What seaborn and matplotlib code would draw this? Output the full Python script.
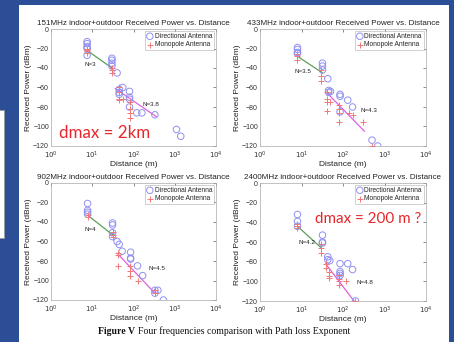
import numpy as np
import pandas as pd
import matplotlib
matplotlib.use("Agg")
import matplotlib.pyplot as plt
import seaborn as sns
from matplotlib.patches import Rectangle

# ---- data ----
freqs = ["151MHz", "433MHz", "902MHz", "2400MHz"]

dir_d_151 = [7.5, 7.5, 7.5, 7.5, 7.5, 30, 30, 30, 30, 40, 45, 45, 45, 55, 80, 80, 80, 80, 120, 160, 330, 1100, 1400]
dir_p_151 = [-13, -15, -18, -20, -27, -30, -32, -35, -38, -45, -62, -65, -67, -60, -64, -70, -72, -80, -86, -86, -88, -103, -110]
mono_d_151 = [7.5, 7.5, 7.5, 7.5, 30, 30, 30, 45, 45, 45, 45, 55, 80, 80, 80, 80]
mono_p_151 = [-20, -22, -23, -25, -40, -42, -45, -60, -65, -72, -73, -72, -75, -82, -86, -91]

dir_d_433 = [8, 8, 8, 8, 32, 32, 32, 43, 45, 45, 50, 85, 85, 85, 130, 170, 500, 690]
dir_p_433 = [-19, -21, -24, -25, -35, -38, -42, -51, -63, -65, -64, -67, -69, -85, -73, -80, -114, -120]
mono_d_433 = [8, 8, 8, 30, 30, 30, 42, 42, 42, 42, 48, 80, 80, 80, 80, 140, 170, 300, 500]
mono_p_433 = [-26, -28, -32, -42, -48, -53, -65, -72, -75, -84, -75, -78, -82, -86, -95, -86, -88, -95, -120]

dir_d_902 = [7.7, 7.7, 7.7, 7.7, 31, 31, 31, 31, 40, 45, 53, 85, 85, 85, 125, 167, 330, 330, 390, 530]
dir_p_902 = [-21, -28, -30, -32, -41, -43, -51, -55, -60, -63, -70, -71, -77, -78, -85, -95, -110, -113, -110, -120]
mono_d_902 = [7.7, 7.7, 31, 31, 31, 43, 43, 43, 80, 80, 80, 130, 330, 330]
mono_p_902 = [-33, -35, -50, -53, -55, -72, -74, -85, -85, -90, -95, -100, -110, -113]

dir_d_2400 = [8, 8, 8, 32, 32, 32, 43, 43, 48, 85, 85, 85, 85, 130, 170, 200]
dir_p_2400 = [-32, -39, -44, -53, -60, -61, -75, -78, -79, -82, -90, -92, -94, -82, -88, -120]
mono_d_2400 = [8, 8, 8, 30, 30, 30, 40, 40, 45, 45, 45, 80, 80, 80, 80, 120, 190]
mono_p_2400 = [-42, -44, -46, -62, -66, -71, -82, -86, -90, -95, -97, -94, -98, -100, -104, -100, -120]

# path loss fit segments (near / far)
near_d = [[7.5, 30], [8, 32], [7.7, 31], [8, 30]]
near_p = [[-22, -40], [-28, -45], [-33, -53], [-44, -66]]
far_d = [[36, 360], [40, 330], [40, 330], [38, 200]]
far_p = [[-61, -90], [-65, -105], [-72, -113], [-82, -122]]

n_near = ["N=3", "N=3.5", "N=4", "N=4.2"]
n_far = ["N=3.8", "N=4.3", "N=4.5", "N=4.8"]
n_near_pos = [(9, -36), (11, -44), (9, -48), (13.5, -60)]
n_far_pos = [(270, -77), (430, -84), (380, -88), (330, -101)]

dir_d = [dir_d_151, dir_d_433, dir_d_902, dir_d_2400]
dir_p = [dir_p_151, dir_p_433, dir_p_902, dir_p_2400]
mono_d = [mono_d_151, mono_d_433, mono_d_902, mono_d_2400]
mono_p = [mono_p_151, mono_p_433, mono_p_902, mono_p_2400]

# ---- figure ----
sns.set_style("white")
plt.rcParams["font.family"] = ["Liberation Sans", "DejaVu Sans"]

fig = plt.figure(figsize=(4.54, 3.42), dpi=100)
fig.patch.set_facecolor("#2c4e96")
fig.add_artist(Rectangle((19 / 454, 0), 430 / 454, 337 / 342, transform=fig.transFigure,
                         facecolor="white", edgecolor="none", zorder=0))
fig.add_artist(Rectangle((-0.01, 1 - 238 / 342), 9 / 454, 128 / 342, transform=fig.transFigure,
                         facecolor="white", edgecolor="#999999", lw=0.5, zorder=0))

positions = [
    [51 / 454, 1 - 146 / 342, 165 / 454, 117 / 342],
    [260 / 454, 1 - 146 / 342, 166 / 454, 117 / 342],
    [51 / 454, 1 - 300 / 342, 165 / 454, 117 / 342],
    [260 / 454, 1 - 301 / 342, 166 / 454, 118 / 342],
]

circ_col = "#9090f0"
plus_col = "#f07878"

for i in range(4):
    ax = fig.add_axes(positions[i])
    df_dir = pd.DataFrame({"d": dir_d[i], "p": dir_p[i]})
    df_mono = pd.DataFrame({"d": mono_d[i], "p": mono_p[i]})
    sns.scatterplot(data=df_dir, x="d", y="p", ax=ax, marker="o", s=22,
                    facecolor="none", edgecolor=circ_col, linewidth=0.7,
                    label="Directional Antenna", zorder=3)
    sns.scatterplot(data=df_mono, x="d", y="p", ax=ax, marker="+", s=22,
                    color=plus_col, linewidth=0.7, label="Monopole Antenna", zorder=3)
    sns.lineplot(x=near_d[i], y=near_p[i], ax=ax, color="#5aa05a", lw=0.9, legend=False, zorder=2)
    sns.lineplot(x=far_d[i], y=far_p[i], ax=ax, color="#e060e0", lw=0.9, legend=False, zorder=2)

    ax.set_xscale("log")
    ax.set_xlim(1, 1e4)
    ax.set_ylim(-120, 0)
    ax.set_xticks([1, 10, 100, 1000, 10000])
    ax.set_xticklabels([r"$10^0$", r"$10^1$", r"$10^2$", r"$10^3$", r"$10^4$"])
    ax.minorticks_off()
    ax.set_yticks(np.arange(-120, 1, 20))
    ax.tick_params(labelsize=5, length=2, width=0.4, direction="in", pad=1.5,
                   colors="#333333", top=True, right=True)
    ax.tick_params(axis="x", pad=2.5)
    for sp in ax.spines.values():
        sp.set_color("#aaaaaa")
        sp.set_linewidth(0.5)
    ax.set_xlabel("Distance (m)", fontsize=6, labelpad=0.5, color="#222222")
    ax.set_ylabel("Received Power (dBm)", fontsize=6, labelpad=1, color="#222222")
    ax.set_title(f"{freqs[i]} indoor+outdoor Received Power vs. Distance",
                 fontsize=5.8, pad=3, color="#222222")
    ax.text(*n_near_pos[i], n_near[i], fontsize=4.5, ha="center", va="center", color="#222222")
    ax.text(*n_far_pos[i], n_far[i], fontsize=4.5, ha="center", va="center", color="#222222")
    leg = ax.legend(loc="upper right", fontsize=4.8, frameon=True, fancybox=False,
                    borderpad=0.3, handlelength=0.8, handletextpad=0.3, labelspacing=0.2,
                    borderaxespad=0.3)
    leg.get_frame().set_edgecolor("#999999")
    leg.get_frame().set_linewidth(0.4)

    if i == 0:
        ax.text(1.6, -107, "dmax = 2km", fontsize=12.2, color="#e8262a",
                family=["Lato", "DejaVu Sans"], va="center", ha="left")
    if i == 3:
        ax.text(21, -37, "dmax = 200 m ?", fontsize=10.9, color="#e8262a",
                family=["Lato", "DejaVu Sans"], va="center", ha="left")

# caption: bold "Figure V" followed by regular text
cap_y = 1 - 331 / 342
t1 = fig.text(98 / 454, cap_y, "Figure V", fontsize=7, weight="bold", ha="left", va="center",
              family=["Liberation Serif"], color="#111111")
fig.canvas.draw()
bb = t1.get_window_extent(fig.canvas.get_renderer())
fig.text((bb.x1 + 2.5) / 454, cap_y, "Four frequencies comparison with Path loss Exponent",
         fontsize=7, ha="left", va="center", family=["Liberation Serif"], color="#111111")

fig.savefig("out.png", dpi=100, facecolor=fig.get_facecolor())
